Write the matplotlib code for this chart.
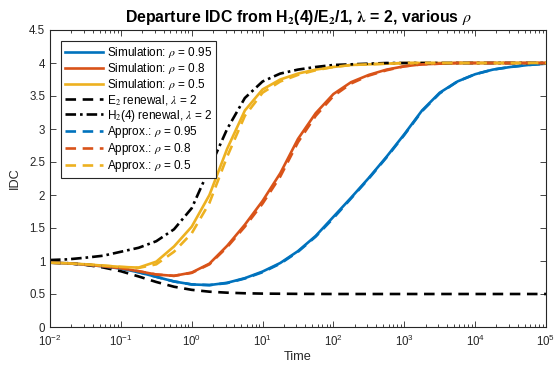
import numpy as np
import matplotlib
matplotlib.use("Agg")
import matplotlib.pyplot as plt

plt.rcParams["font.family"] = ["Liberation Sans", "DejaVu Sans"]
plt.rcParams["mathtext.fontset"] = "stix"

# sample times as log10(t)
log_t = [-2.0, -1.75, -1.5, -1.25, -1.0, -0.75, -0.5, -0.25, 0.0, 0.25, 0.5,
         0.75, 1.0, 1.25, 1.5, 1.75, 2.0, 2.25, 2.5, 2.75, 3.0, 3.25, 3.5,
         3.75, 4.0, 4.25, 4.5, 4.75, 5.0]

sim_095 = [0.975, 0.965, 0.945, 0.92, 0.885, 0.83, 0.76, 0.69, 0.645, 0.635,
           0.67, 0.74, 0.84, 0.97, 1.15, 1.38, 1.67, 1.96, 2.26, 2.58, 2.92,
           3.28, 3.55, 3.72, 3.83, 3.9, 3.94, 3.97, 3.99]
sim_080 = [0.975, 0.965, 0.945, 0.92, 0.89, 0.845, 0.795, 0.775, 0.825, 0.96,
           1.23, 1.55, 1.91, 2.33, 2.85, 3.24, 3.53, 3.71, 3.82, 3.9, 3.95,
           3.98, 3.99, 4.0, 4.0, 4.0, 4.0, 4.0, 4.0]
sim_050 = [0.975, 0.965, 0.95, 0.93, 0.91, 0.9, 0.99, 1.22, 1.52, 2.0, 2.7,
           3.28, 3.6, 3.75, 3.84, 3.9, 3.94, 3.97, 3.98, 3.99, 4.0, 4.0, 4.0,
           4.0, 4.0, 4.0, 4.0, 4.0, 4.0]
e2_renewal = [0.98, 0.967, 0.942, 0.902, 0.845, 0.766, 0.682, 0.61, 0.563,
              0.535, 0.52, 0.511, 0.506, 0.504, 0.502, 0.501, 0.5, 0.5, 0.5,
              0.5, 0.5, 0.5, 0.5, 0.5, 0.5, 0.5, 0.5, 0.5, 0.5]
h2_renewal = [1.015, 1.025, 1.05, 1.08, 1.14, 1.2, 1.3, 1.48, 1.8, 2.4, 3.0,
              3.47, 3.72, 3.84, 3.9, 3.94, 3.97, 3.98, 3.99, 4.0, 4.0, 4.0,
              4.0, 4.0, 4.0, 4.0, 4.0, 4.0, 4.0]
approx_095 = [0.975, 0.965, 0.945, 0.92, 0.885, 0.83, 0.76, 0.69, 0.645, 0.635,
              0.665, 0.735, 0.83, 0.96, 1.14, 1.37, 1.65, 1.95, 2.25, 2.57,
              2.91, 3.27, 3.54, 3.72, 3.83, 3.9, 3.94, 3.97, 3.99]
approx_080 = [0.975, 0.965, 0.945, 0.92, 0.89, 0.845, 0.795, 0.775, 0.82, 0.95,
              1.21, 1.52, 1.87, 2.28, 2.8, 3.2, 3.5, 3.69, 3.81, 3.89, 3.95,
              3.98, 3.99, 4.0, 4.0, 4.0, 4.0, 4.0, 4.0]
approx_050 = [0.975, 0.965, 0.95, 0.93, 0.91, 0.895, 0.95, 1.14, 1.42, 1.88,
              2.58, 3.2, 3.55, 3.72, 3.82, 3.89, 3.94, 3.97, 3.98, 3.99, 4.0,
              4.0, 4.0, 4.0, 4.0, 4.0, 4.0, 4.0, 4.0]

y_ticks = [0, 0.5, 1, 1.5, 2, 2.5, 3, 3.5, 4, 4.5]
y_tick_labels = ["0", "0.5", "1", "1.5", "2", "2.5", "3", "3.5", "4", "4.5"]

blue, red, yellow = "#0072BD", "#D95319", "#EDB120"
t = 10.0 ** np.array(log_t)

fig = plt.figure(figsize=(5.55, 3.69), dpi=100)
ax = fig.add_axes([50 / 555, 42 / 369, 496 / 555, 297 / 369])

lw = 1.9
dash = (0, (4, 2.5))
ax.plot(t, sim_095, color=blue, lw=lw, label=r"Simulation: $\rho$ = 0.95")
ax.plot(t, sim_080, color=red, lw=lw, label=r"Simulation: $\rho$ = 0.8")
ax.plot(t, sim_050, color=yellow, lw=lw, label=r"Simulation: $\rho$ = 0.5")
ax.plot(t, e2_renewal, color="black", lw=lw, ls=dash,
        label=r"E$_2$ renewal, $\lambda$ = 2")
ax.plot(t, h2_renewal, color="black", lw=lw, ls=(0, (4, 1.5, 1, 1.5)),
        label=r"H$_2$(4) renewal, $\lambda$ = 2")
ax.plot(t, approx_095, color=blue, lw=lw, ls=dash,
        label=r"Approx.: $\rho$ = 0.95")
ax.plot(t, approx_080, color=red, lw=lw, ls=dash,
        label=r"Approx.: $\rho$ = 0.8")
ax.plot(t, approx_050, color=yellow, lw=lw, ls=dash,
        label=r"Approx.: $\rho$ = 0.5")

ax.set_xscale("log")
ax.set_xlim(1e-2, 1e5)
ax.set_ylim(0, 4.5)
ax.set_yticks(y_ticks)
ax.set_yticklabels(y_tick_labels)
ax.set_xticks([10.0 ** k for k in range(-2, 6)])
ax.xaxis.set_minor_locator(matplotlib.ticker.LogLocator(base=10, subs=np.arange(2, 10), numticks=20))
ax.xaxis.set_minor_formatter(matplotlib.ticker.NullFormatter())

axis_col = "#262626"
for s in ax.spines.values():
    s.set_color(axis_col)
    s.set_linewidth(0.8)
ax.tick_params(which="both", direction="in", top=True, right=True,
               colors=axis_col, labelsize=8.3, width=0.6)
ax.tick_params(which="major", length=4)
ax.tick_params(which="minor", length=2.2)
ax.tick_params(axis="x", pad=5)

ax.set_xlabel("Time", fontsize=9.2, color=axis_col, labelpad=1)
ax.set_ylabel("IDC", fontsize=9.2, color=axis_col, labelpad=6)
ax.set_title(r"Departure IDC from H$_\mathbf{2}$(4)/E$_\mathbf{2}$/1, $\mathbf{\lambda}$ = 2, various $\rho$",
             fontsize=11.4, fontweight="bold", color="black", pad=6)

leg = ax.legend(loc="upper left", fontsize=8.5, handlelength=3.2,
                borderpad=0.3, labelspacing=0.08, handletextpad=0.35,
                borderaxespad=0.95, fancybox=False, framealpha=1,
                edgecolor=axis_col)
leg.get_frame().set_linewidth(0.8)

fig.savefig("out.png", dpi=100)
